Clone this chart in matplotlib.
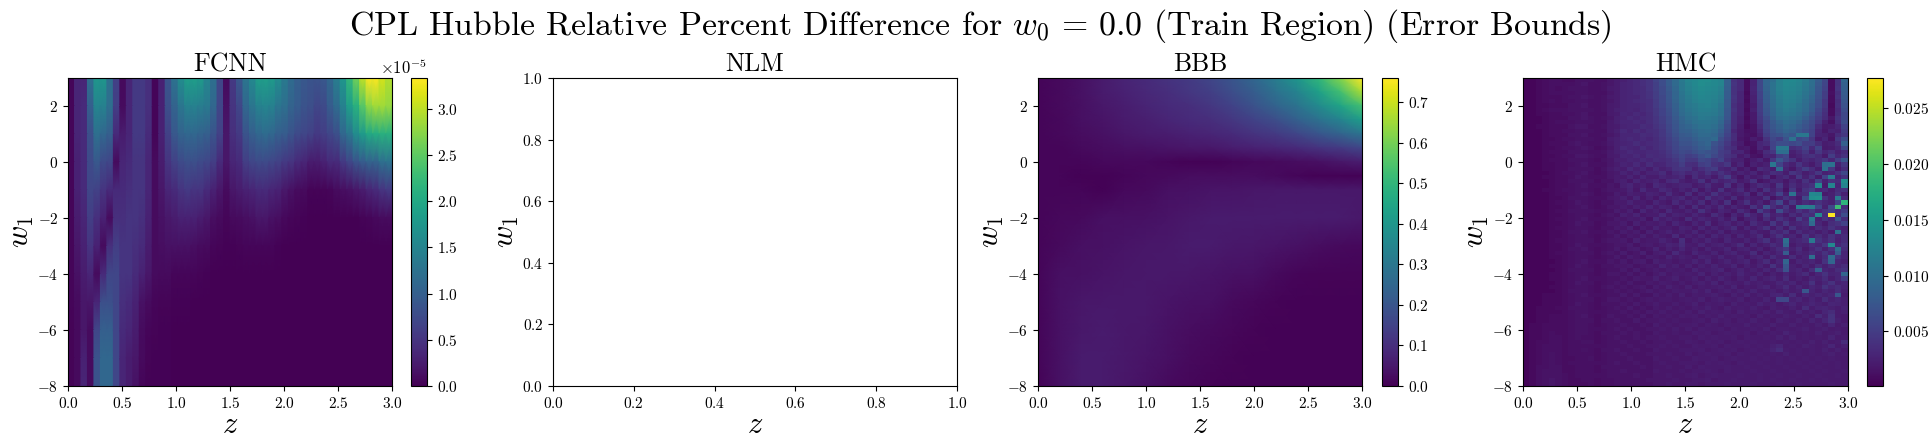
import numpy as np
import matplotlib
matplotlib.use('Agg')
import matplotlib.pyplot as plt

plt.rcParams['font.family'] = 'serif'
plt.rcParams['font.serif'] = ['cmr10']
plt.rcParams['mathtext.fontset'] = 'cm'
plt.rcParams['axes.formatter.use_mathtext'] = True
plt.rcParams['axes.unicode_minus'] = True

titles = ['FCNN', 'NLM', 'BBB', 'HMC']

# FCNN, one list per z column, values at fcnn_w1, in units of 1e-5
fcnn_w1 = [3, 2, 1, 0, -1, -2, -3, -4, -5, -6, -7, -8]
fcnn_cols = [
    [.05, .05, .05, .05, .05, .05, .05, .05, .05, .03, .03, .03],
    [.35, .35, .35, .3, .3, .25, .2, .15, .1, .08, .08, .08],
    [.35, .4, .4, .4, .4, .35, .3, .25, .2, .2, .3, .35],
    [1.2, 1.0, .8, .75, .7, .6, .5, .35, .2, .1, .1, .1],
    [1.75, 1.5, 1.2, .9, .65, .45, .3, .1, .35, .7, .85, .85],
    [1.75, 1.45, 1.1, .75, .5, .3, .1, .4, .8, 1.0, 1.1, 1.1],
    [1.2, 1.2, 1.0, .7, .4, .1, .45, .7, .8, 1.0, 1.1, 1.1],
    [.65, .6, .4, .1, .4, .45, .6, .7, .7, .7, .7, .7],
    [.08, .1, .25, .35, .4, .45, .5, .5, .45, .4, .35, .35],
    [.35, .35, .35, .4, .45, .5, .5, .5, .4, .35, .25, .25],
    [.55, .55, .55, .5, .5, .5, .45, .4, .3, .25, .2, .15],
    [.55, .55, .55, .5, .5, .45, .4, .3, .15, .1, .08, .05],
    [.45, .45, .4, .35, .35, .3, .25, .2, .1, .05, .03, .02],
    [.05, .05, .05, .1, .1, .1, .1, .1, .05, .03, .02, .02],
    [.3, .3, .3, .25, .2, .15, .12, .08, .03, .02, .02, .02],
    [.85, .8, .65, .5, .35, .22, .15, .08, .03, .02, .02, .02],
    [1.25, 1.05, .9, .65, .4, .25, .15, .05, .02, .01, .01, .01],
    [1.6, 1.3, 1.05, .75, .5, .3, .15, .05, .02, .01, .01, .01],
    [1.85, 1.45, 1.1, .8, .55, .3, .15, .05, .02, .01, .01, .01],
    [1.85, 1.45, 1.1, .8, .5, .3, .13, .05, .01, .01, .01, .01],
    [1.8, 1.4, 1.05, .75, .5, .25, .1, .03, .01, .01, .01, .01],
    [1.5, 1.35, 1.0, .7, .4, .2, .08, .02, .01, .01, .01, .01],
    [1.2, 1.1, .85, .6, .3, .12, .05, .01, .01, .01, .01, .01],
    [.7, .7, .65, .4, .2, .08, .03, .01, .01, .01, .01, .01],
    [.1, .15, .2, .2, .1, .05, .02, .01, .01, .01, .01, .01],
    [.55, .5, .45, .35, .2, .08, .02, .01, .01, .01, .01, .01],
    [.9, .7, .55, .4, .25, .1, .03, .01, .01, .01, .01, .01],
    [1.3, 1.1, .85, .6, .3, .12, .04, .01, .01, .01, .01, .01],
    [1.55, 1.3, 1.0, .7, .35, .15, .05, .01, .01, .01, .01, .01],
    [1.85, 1.45, 1.1, .75, .4, .2, .05, .01, .01, .01, .01, .01],
    [1.85, 1.5, 1.15, .75, .4, .2, .05, .01, .01, .01, .01, .01],
    [1.8, 1.45, 1.1, .7, .35, .15, .04, .01, .01, .01, .01, .01],
    [1.6, 1.3, 1.0, .65, .3, .12, .02, .01, .01, .01, .01, .01],
    [1.35, 1.2, .95, .55, .22, .07, .01, .01, .01, .01, .01, .01],
    [1.15, 1.05, .85, .5, .15, .05, .01, .01, .01, .01, .01, .01],
    [1.0, .95, .75, .4, .1, .03, .01, .01, .01, .01, .01, .01],
    [.9, .85, .7, .35, .08, .02, .01, .01, .01, .01, .01, .01],
    [.85, .8, .65, .25, .03, .01, .01, .01, .01, .01, .01, .01],
    [.85, .7, .55, .25, .03, .01, .01, .01, .01, .01, .01, .01],
    [.9, .75, .6, .3, .03, .01, .01, .01, .01, .01, .01, .01],
    [1.1, .95, .7, .4, .05, .01, .01, .01, .01, .01, .01, .01],
    [1.4, 1.15, .8, .4, .1, .01, .01, .01, .01, .01, .01, .01],
    [1.75, 1.45, 1.1, .55, .13, .01, .01, .01, .01, .01, .01, .01],
    [2.2, 1.85, 1.3, .7, .15, .01, .01, .01, .01, .01, .01, .01],
    [2.6, 2.1, 1.6, .85, .2, .01, .01, .01, .01, .01, .01, .01],
    [3.0, 2.45, 1.8, .95, .25, .03, .01, .01, .01, .01, .01, .01],
    [3.3, 2.75, 2.0, 1.05, .35, .05, .01, .01, .01, .01, .01, .01],
    [3.3, 2.85, 2.05, 1.05, .4, .07, .01, .01, .01, .01, .01, .01],
    [3.1, 2.85, 2.1, 1.2, .5, .1, .01, .01, .01, .01, .01, .01],
    [2.95, 2.8, 2.1, 1.25, .55, .1, .01, .01, .01, .01, .01, .01],
]

# BBB, one list per w1 row, values at bbb_z
bbb_z = [0, .2, .4, .6, .8, 1.0, 1.2, 1.4, 1.6, 1.8, 2.0, 2.2, 2.4, 2.6, 2.8, 3.0]
bbb_w1 = [3, 2.5, 2, 1.5, 1, .5, 0, -.5, -1, -2, -3, -4, -5, -6, -7, -8]
bbb_rows = [
    [.01, .02, .035, .055, .075, .09, .11, .13, .16, .2, .25, .32, .4, .5, .62, .76],
    [.01, .02, .035, .055, .07, .085, .1, .12, .14, .18, .22, .28, .34, .43, .53, .66],
    [.01, .02, .03, .05, .06, .075, .09, .1, .12, .15, .19, .24, .29, .36, .44, .53],
    [.01, .015, .03, .04, .055, .065, .08, .09, .1, .12, .15, .18, .23, .28, .34, .42],
    [.01, .015, .025, .035, .045, .055, .06, .07, .08, .09, .11, .13, .16, .2, .24, .29],
    [.01, .01, .02, .025, .03, .035, .04, .045, .05, .06, .07, .08, .09, .11, .13, .16],
    [.01, .01, .01, .015, .015, .015, .01, .005, .005, .01, .015, .02, .025, .03, .045, .06],
    [.01, .01, .005, .005, .01, .015, .02, .025, .025, .025, .025, .02, .01, .005, .005, .005],
    [.01, .01, .01, .005, .015, .02, .03, .035, .04, .04, .045, .05, .05, .05, .05, .05],
    [.01, .015, .02, .03, .03, .035, .04, .05, .055, .055, .055, .055, .055, .055, .055, .05],
    [.01, .02, .03, .035, .04, .045, .05, .055, .055, .05, .045, .04, .035, .025, .02, .015],
    [.01, .03, .035, .04, .045, .05, .05, .045, .04, .035, .03, .02, .01, .008, .008, .008],
    [.01, .035, .045, .05, .05, .05, .04, .035, .03, .02, .012, .008, .005, .004, .004, .004],
    [.01, .035, .05, .055, .05, .045, .035, .025, .02, .012, .007, .005, .004, .004, .004, .004],
    [.01, .035, .055, .055, .05, .04, .03, .02, .012, .007, .005, .004, .004, .004, .004, .004],
    [.008, .035, .055, .055, .045, .035, .02, .012, .007, .005, .004, .004, .004, .004, .004, .004],
]

# HMC, 75 rows top to bottom by 50 columns, in units of 0.00025
hmc_rows = [
    [2,2,3,4,5, 5,4,4,6,6, 6,5,5,7,9, 10,12,13,15,17, 22,26,32,38,45, 50,52,54,54,52, 50,34,16,13,4, 11,24,36,40,48, 52,52,50,46,40, 32,24,4,16,36],
    [2,2,3,4,5, 5,5,5,6,7, 5,5,6,7,9, 11,12,13,15,17, 21,26,32,38,44, 49,52,54,53,52, 50,34,17,13,4, 11,24,36,42,48, 52,51,49,45,40, 31,23,4,16,34],
    [2,2,3,4,5, 4,5,6,6,6, 5,5,6,8,9, 11,12,13,14,17, 21,25,31,37,44, 48,51,53,52,51, 48,33,16,13,4, 12,24,35,42,48, 51,50,48,44,39, 30,22,4,17,33],
    [2,2,3,4,5, 5,5,5,6,6, 5,5,5,7,9, 11,12,13,14,16, 20,25,30,36,43, 47,50,52,51,50, 47,32,16,12,3, 11,22,34,41,47, 50,49,47,43,38, 29,20,5,15,32],
    [2,2,3,4,4, 4,5,6,6,7, 6,5,6,8,9, 11,12,12,14,16, 20,24,30,36,42, 46,49,51,50,49, 46,32,17,12,4, 10,22,33,40,46, 49,48,46,42,36, 28,20,4,16,31],
    [2,2,3,4,5, 4,5,5,6,6, 5,5,6,7,9, 11,12,13,14,15, 19,24,29,35,41, 45,48,50,50,48, 45,31,16,12,3, 10,21,32,39,45, 48,47,45,40,35, 27,18,4,14,30],
    [2,2,3,3,4, 4,4,6,6,7, 5,5,6,8,9, 11,12,12,13,15, 19,23,28,34,40, 44,46,48,49,47, 43,31,15,11,4, 9,20,31,38,44, 47,46,43,39,33, 26,18,3,15,28],
    [2,2,3,4,5, 5,5,6,6,6, 6,5,6,8,10, 11,12,11,13,15, 18,22,27,33,39, 43,45,47,47,46, 42,30,16,11,3, 10,20,30,37,43, 46,44,42,38,32, 24,16,4,13,26],
    [2,2,3,3,4, 4,5,5,6,7, 5,5,5,8,9, 12,11,13,12,14, 18,22,26,32,38, 41,44,46,46,45, 41,30,15,11,4, 8,19,29,36,42, 44,43,40,36,30, 22,15,4,14,24],
    [2,2,2,3,4, 4,4,6,6,7, 6,5,6,7,10, 11,13,12,13,14, 17,21,25,31,36, 40,42,45,44,43, 39,29,15,10,3, 8,18,26,34,40, 42,40,38,33,27, 20,14,7,16,24],
    [2,2,2,3,4, 5,5,5,6,6, 6,5,5,8,10, 12,12,13,12,14, 17,20,25,30,35, 38,41,43,43,42, 37,27,14,10,4, 7,16,24,31,36, 40,38,35,30,25, 18,10,5,15,26],
    [2,2,3,3,4, 4,4,6,7,7, 5,5,6,8,9, 11,12,12,14,13, 16,19,24,29,34, 36,39,41,42,40, 35,25,14,9,3, 6,14,24,30,34, 38,36,32,28,24, 14,8,9,12,22],
    [2,2,2,3,4, 4,5,5,6,6, 6,5,5,8,10, 13,11,14,12,14, 15,18,23,28,33, 34,37,39,40,38, 32,24,12,8,5, 6,12,22,28,32, 36,34,30,26,22, 12,7,11,10,20],
    [2,2,2,3,4, 4,4,6,6,7, 5,5,6,7,9, 12,12,12,14,13, 15,18,22,27,31, 32,35,38,38,36, 30,22,14,8,6, 5,10,20,26,28, 32,30,44,44,22, 11,10,7,14,18],
    [2,2,2,3,3, 4,5,5,6,6, 6,5,5,9,10, 12,13,12,13,12, 14,17,21,25,30, 30,33,36,36,38, 26,20,14,7,5, 9,7,16,24,20, 28,42,24,26,18, 8,12,6,18,26],
    [2,2,2,3,4, 4,4,6,7,6, 5,5,6,8,10, 11,12,14,12,13, 14,16,20,24,28, 28,31,34,36,28, 24,18,12,9,4, 6,12,14,22,26, 26,24,26,20,20, 14,9,10,14,34],
    [2,2,2,3,3, 4,5,5,6,7, 6,4,5,7,10, 13,12,11,14,12, 14,16,19,23,26, 26,29,32,34,26, 22,16,14,7,8, 5,12,9,22,44, 44,14,16,22,13, 22,8,9,12,24],
    [2,2,2,3,4, 4,4,6,6,6, 5,5,6,8,10, 11,13,12,12,13, 13,15,18,22,25, 24,27,30,28,26, 20,18,11,12,7, 4,7,14,18,40, 40,10,13,18,10, 18,12,15,10,14],
    [2,2,2,3,3, 4,5,5,7,7, 6,5,5,8,9, 12,11,13,11,14, 13,14,17,20,23, 20,22,26,30,24, 20,16,14,8,11, 6,5,12,11,20, 24,9,11,15,16, 13,8,20,12,16],
    [2,2,2,3,4, 4,4,6,6,6, 5,4,6,7,10, 10,12,11,13,12, 14,13,15,18,22, 18,18,24,22,18, 22,14,10,10,6, 9,12,7,18,30, 22,16,9,13,11, 14,18,12,20,30],
    [2,2,2,3,3, 4,4,5,6,7, 5,5,5,7,9, 11,10,13,10,14, 11,12,15,16,20, 15,14,20,22,16, 14,18,8,12,5, 10,8,10,44,22, 13,10,17,11,8, 13,40,42,10,18],
    [2,2,2,3,3, 4,4,6,6,6, 6,4,6,8,10, 9,13,10,12,9, 13,10,12,16,17, 16,11,15,18,20, 12,10,14,7,10, 6,14,12,9,38, 11,7,13,20,14, 9,42,18,8,14],
    [2,2,2,2,3, 4,5,5,6,7, 5,4,5,7,8, 11,9,12,8,11, 11,14,9,13,15, 12,14,11,16,12, 16,12,8,11,9, 12,7,10,15,13, 9,17,14,9,12, 18,10,12,16,24],
    [2,2,2,3,3, 4,4,5,7,6, 5,5,5,7,9, 8,11,8,12,9, 9,12,10,11,13, 7,14,10,12,8, 14,20,10,6,12, 8,10,15,6,11, 14,8,18,10,16, 8,22,46,11,16],
    [2,2,2,2,3, 4,4,6,6,6, 6,4,6,6,9, 10,7,12,9,10, 12,8,13,15,10, 8,10,16,8,14, 10,12,14,8,10, 16,6,8,12,11, 7,12,9,16,10, 22,10,16,14,54],
    [2,2,2,2,3, 4,4,5,6,7, 5,5,5,7,6, 10,12,8,10,7, 13,11,9,10,12, 12,8,10,14,9, 8,16,7,12,6, 10,14,12,8,18, 8,14,10,13,16, 52,8,50,12,50],
    [2,2,2,3,3, 4,5,5,6,6, 5,4,6,7,7, 8,11,7,13,9, 9,13,11,8,11, 9,14,7,12,8, 16,8,10,14,7, 12,7,16,10,14, 6,18,8,16,20, 12,13,9,14,16],
    [2,2,2,2,3, 4,4,5,6,7, 6,4,5,6,9, 7,10,9,8,11, 10,8,14,9,7, 14,7,12,9,16, 10,12,8,10,14, 6,14,8,12,22, 10,42,12,14,52, 50,8,10,16,10],
    [2,2,2,2,3, 3,4,6,6,6, 5,5,5,7,8, 10,7,12,7,10, 7,12,9,11,13, 8,11,8,16,10, 12,8,14,7,11, 9,8,16,6,10, 16,12,8,24,54, 56,16,10,46,14],
    [2,2,2,2,3, 4,4,5,7,6, 5,4,6,6,8, 8,11,8,9,7, 12,9,7,13,9, 12,9,14,7,12, 8,16,6,10,16, 8,12,7,14,24, 9,18,10,14,12, 16,12,10,22,72],
    [2,2,2,2,3, 3,4,5,6,7, 5,4,5,7,7, 9,7,10,8,12, 8,11,10,7,12, 7,14,8,12,9, 14,8,12,9,7, 16,10,28,14,10, 18,8,46,48,46, 22,10,24,76,14],
    [2,2,2,2,3, 4,4,6,6,6, 6,5,5,6,9, 7,10,6,12,8, 10,7,13,9,8, 11,8,16,10,7, 12,10,7,14,10, 6,20,12,8,26, 14,10,16,12,18, 12,16,20,14,20],
    [2,2,2,2,3, 3,4,5,6,6, 5,4,6,7,6, 10,8,11,7,9, 9,13,8,11,10, 8,12,9,7,14, 10,6,12,8,16, 11,8,18,10,12, 8,14,10,16,14, 52,14,110,14,26],
    [2,2,2,2,3, 4,4,5,6,7, 5,5,5,6,8, 7,9,8,10,6, 13,9,11,9,7, 14,9,12,10,8, 12,8,14,6,10, 12,7,14,9,16, 12,8,20,12,44, 10,16,12,28,14],
    [2,2,2,2,3, 3,4,5,7,6, 6,4,5,7,7, 9,6,10,7,9, 8,10,7,12,9, 7,11,8,14,7, 10,12,8,11,7, 14,10,8,18,10, 18,10,12,14,38, 12,8,14,16,22],
    [2,2,2,2,3, 4,4,5,6,6, 5,4,6,6,8, 7,10,6,9,7, 11,8,9,7,11, 10,7,12,8,11, 8,10,14,7,12, 8,11,16,8,14, 8,16,10,12,9, 14,11,16,12,10],
    [2,2,2,2,3, 3,4,6,6,7, 5,5,5,7,6, 9,7,9,6,10, 7,9,11,8,10, 8,12,7,10,8, 12,7,10,9,8, 12,9,8,14,11, 16,8,14,10,12, 9,12,8,42,12],
    [2,2,2,2,3, 3,4,5,6,6, 5,4,5,6,8, 6,8,7,10,7, 10,8,7,13,7, 10,8,11,7,12, 9,11,7,12,8, 10,14,7,11,16, 10,12,8,16,10, 14,10,16,11,14],
    [2,2,2,2,3, 4,4,5,6,6, 6,4,6,7,7, 8,6,10,7,8, 8,11,9,7,15, 7,10,8,12,9, 7,12,9,8,11, 8,12,16,9,12, 40,10,12,14,44, 16,12,16,10,14],
    [2,2,2,2,3, 3,4,5,7,6, 5,5,5,6,7, 7,9,6,8,9, 7,9,11,10,14, 9,8,12,8,10, 11,8,10,14,7, 12,8,10,14,11, 36,8,11,10,14, 12,18,52,12,16],
    [2,2,2,2,3, 3,4,6,6,7, 5,4,5,6,8, 6,8,9,6,7, 11,7,10,8,12, 8,10,7,11,8, 9,12,7,10,11, 8,11,7,10,14, 18,10,14,8,12, 16,10,16,38,14],
    [2,2,2,2,3, 4,4,5,6,6, 6,4,6,7,6, 9,6,7,10,6, 9,10,7,13,9, 7,12,9,8,11, 7,10,12,8,9, 14,7,11,9,12, 32,8,12,10,14, 11,16,12,32,12],
    [2,2,2,2,3, 3,4,5,6,6, 5,4,5,6,8, 6,9,7,6,9, 8,7,11,8,10, 9,7,11,10,8, 12,8,9,11,7, 10,12,8,14,10, 10,14,9,11,40, 10,14,38,16,12],
    [2,2,2,2,2, 3,4,5,6,7, 5,5,5,7,6, 8,6,8,9,6, 10,8,9,7,9, 8,11,8,12,7, 9,11,8,10,12, 7,10,14,8,12, 36,8,12,10,12, 9,16,36,12,10],
    [2,2,2,2,3, 3,4,5,7,6, 5,4,6,6,7, 7,8,6,7,8, 7,11,8,10,7, 10,7,10,8,11, 8,9,12,7,10, 8,11,8,16,10, 30,10,8,12,9, 14,10,14,11,14],
    [2,2,2,2,2, 3,4,6,6,6, 6,4,5,6,6, 8,6,9,6,7, 9,7,9,8,9, 7,11,8,9,10, 12,7,9,11,8, 10,8,12,9,14, 28,10,12,8,14, 34,12,10,14,16],
    [2,2,2,2,3, 3,4,5,6,6, 5,4,5,7,7, 6,8,6,8,6, 8,10,7,9,8, 9,8,11,7,10, 8,10,8,12,9, 8,11,7,10,8, 12,9,11,14,8, 12,16,11,12,36],
    [2,2,2,2,3, 3,4,5,6,7, 5,5,5,6,6, 7,6,8,7,7, 10,7,8,10,7, 8,10,7,10,8, 11,9,7,10,8, 12,8,10,12,9, 14,8,10,8,12, 10,14,9,12,20],
    [2,2,2,2,2, 3,4,5,7,6, 6,4,5,6,7, 6,8,6,6,8, 7,9,8,7,9, 7,9,10,8,11, 7,10,9,8,11, 9,10,8,9,12, 10,12,8,10,16, 9,12,16,10,12],
    [2,2,2,2,3, 3,4,5,6,6, 5,4,6,7,6, 7,6,7,8,6, 9,7,10,8,7, 10,7,9,8,9, 10,8,11,7,9, 8,10,12,8,10, 14,9,12,9,12, 10,16,12,14,11],
    [2,2,2,2,2, 3,4,6,6,6, 5,4,5,6,7, 6,7,6,7,9, 7,8,7,9,8, 8,10,8,11,7, 9,10,8,10,8, 11,8,9,10,8, 11,9,10,30,11, 9,12,10,14,10],
    [2,2,2,3,3, 3,4,5,6,7, 5,5,5,6,6, 8,6,8,6,6, 9,7,9,7,10, 7,9,8,9,10, 8,7,10,8,11, 8,10,8,11,12, 9,14,8,12,10, 12,10,12,30,9],
    [2,2,2,3,3, 3,4,5,6,6, 6,4,5,7,7, 6,7,6,7,8, 7,8,8,7,8, 9,8,10,7,9, 10,9,8,10,7, 9,8,11,8,24, 24,10,12,9,11, 9,14,10,12,10],
    [2,2,2,3,3, 3,4,5,7,6, 5,4,6,6,6, 7,6,8,6,7, 9,7,7,9,7, 8,10,7,9,8, 9,7,10,8,9, 8,11,9,10,8, 10,12,9,10,12, 10,9,12,11,10],
    [2,2,3,3,3, 4,4,6,6,6, 5,4,5,6,7, 6,8,6,7,6, 8,7,9,7,8, 7,9,8,10,8, 7,10,8,9,8, 10,8,7,10,9, 8,10,8,14,9, 11,12,10,9,11],
    [2,2,3,3,3, 3,4,5,6,6, 5,5,5,6,6, 7,6,7,6,8, 7,9,7,8,7, 9,7,10,8,9, 8,9,7,10,8, 9,8,10,8,11, 9,8,12,9,10, 8,12,14,9,10],
    [2,2,3,3,4, 4,4,5,6,7, 5,4,5,7,6, 6,7,6,8,6, 8,7,8,7,9, 8,9,7,9,8, 10,8,9,8,9, 7,10,8,9,8, 10,9,8,10,8, 14,10,16,9,8],
    [2,2,3,3,4, 4,4,5,6,6, 6,4,6,6,7, 6,6,8,6,7, 7,8,7,8,7, 7,8,9,7,10, 8,9,7,9,8, 10,8,9,7,10, 9,8,10,8,11, 9,12,16,10,8],
    [2,3,3,4,4, 4,4,5,6,6, 5,4,5,6,6, 7,6,6,7,6, 9,7,8,7,8, 8,9,7,9,8, 7,9,8,8,10, 8,9,8,10,8, 8,10,8,9,8, 10,8,12,8,10],
    [2,3,3,4,4, 4,4,5,6,6, 5,5,5,6,7, 6,7,6,6,7, 7,8,7,9,7, 9,7,9,8,8, 9,7,9,8,8, 9,8,10,7,9, 9,8,9,10,8, 9,10,8,9,8],
    [2,3,3,4,5, 4,4,5,6,6, 5,4,6,6,6, 7,6,7,6,6, 8,7,7,8,7, 7,9,8,9,7, 8,9,8,8,9, 7,9,8,9,8, 11,9,8,9,8, 10,8,9,10,8],
    [2,3,3,4,5, 5,4,5,6,5, 5,4,5,6,7, 6,6,7,6,7, 7,8,7,7,8, 8,7,9,8,9, 8,8,9,7,9, 8,8,9,8,10, 8,10,8,9,8, 9,8,11,8,9],
    [2,3,4,4,5, 5,4,5,5,6, 6,4,5,6,6, 7,6,6,7,6, 7,7,8,7,7, 9,8,7,9,8, 9,7,8,9,8, 9,8,8,9,8, 9,8,9,8,10, 8,10,8,9,14],
    [2,3,4,5,5, 5,4,5,5,5, 5,5,5,6,6, 6,7,6,6,7, 7,8,7,8,7, 7,9,8,8,9, 7,9,8,8,9, 8,9,8,10,12, 8,9,8,10,9, 8,9,12,8,10],
    [2,3,4,5,5, 5,4,5,5,6, 5,4,6,6,7, 6,6,7,6,6, 8,7,7,7,8, 8,8,9,7,8, 9,8,9,7,8, 9,8,9,11,14, 9,8,9,8,9, 8,10,8,10,8],
    [2,3,4,5,6, 5,4,5,5,5, 5,4,5,6,6, 7,6,6,6,7, 7,7,8,7,7, 9,7,8,9,8, 8,9,7,9,8, 8,9,8,9,8, 10,8,9,8,9, 8,9,10,8,9],
    [2,3,4,5,6, 5,4,4,5,5, 6,4,5,6,6, 6,7,6,6,6, 8,7,7,8,7, 7,9,8,8,9, 7,8,9,8,8, 9,8,9,8,9, 8,9,8,9,8, 9,8,9,8,8],
    [2,3,4,5,6, 5,4,5,5,5, 5,5,5,6,7, 6,6,7,6,6, 7,8,7,7,8, 8,8,7,9,8, 9,8,7,9,8, 8,9,8,8,9, 8,8,9,8,9, 8,9,8,9,8],
    [2,3,5,5,6, 6,4,4,5,5, 5,4,6,6,6, 6,6,6,7,6, 7,7,8,7,7, 9,7,9,8,8, 8,9,8,8,9, 8,8,9,8,8, 9,8,8,9,8, 9,8,8,9,8],
    [2,3,5,6,6, 6,4,4,5,5, 5,4,5,6,6, 7,6,6,6,6, 8,7,7,7,8, 7,8,8,9,8, 7,9,8,8,8, 9,8,8,9,8, 8,9,8,8,9, 8,9,8,8,9],
    [2,3,5,6,6, 6,5,4,5,5, 5,5,5,6,6, 6,6,7,6,6, 7,7,8,7,7, 8,9,7,8,9, 8,8,8,9,8, 8,9,8,8,9, 8,8,9,8,8, 9,8,8,9,8],
    [2,3,5,6,7, 6,5,4,4,5, 5,4,5,5,6, 6,6,6,6,7, 7,7,7,8,7, 7,8,8,9,7, 8,8,9,8,8, 8,9,8,9,8, 8,9,8,8,9, 8,9,8,8,8],
    [2,3,5,6,7, 6,5,4,4,4, 5,4,5,5,6, 6,6,6,6,6, 7,7,8,7,7, 8,8,7,8,8, 8,9,8,8,8, 9,8,8,8,9, 8,8,9,8,8, 8,8,9,8,8],
]

hmc_z = np.linspace(0, 3, 51)
hmc_w1 = np.linspace(3, -8, len(hmc_rows) + 1)
fcnn_edges = np.linspace(0, 3, 51)

W, H = 1933, 448

def pix_axes(x0, x1, y0=78, y1=386):
    return fig.add_axes([x0/W, 1 - y1/H, (x1 - x0)/W, (y1 - y0)/H])

def dress(ax, title):
    ax.set_title(title, fontsize=18.5, pad=5)
    ax.set_xlabel(r'$z$', fontsize=22, labelpad=0.5)
    ax.set_ylabel(r'$w_1$', fontsize=22, labelpad=1)
    ax.tick_params(labelsize=11)

fig = plt.figure(figsize=(W/100, H/100), dpi=100)
fig.suptitle(r'CPL Hubble Relative Percent Difference for $w_0\,=\,0.0$ (Train Region) (Error Bounds)',
             fontsize=24.3, x=0.507, y=0.985)

# FCNN: columns held flat, smooth along w1
ax = pix_axes(68, 392)
fcnn = np.array(fcnn_cols).T * 1e-5
zz = np.repeat(fcnn_edges, 2)[1:-1]
m = ax.pcolormesh(zz, fcnn_w1, np.repeat(fcnn, 2, axis=1), shading='gouraud',
                  cmap='viridis', vmin=0, vmax=3.33e-5)
ax.set_xlim(0, 3)
ax.set_ylim(-8, 3)
dress(ax, titles[0])
cb = fig.colorbar(m, cax=pix_axes(411, 427))
cb.ax.tick_params(labelsize=11)
cb.ax.yaxis.get_offset_text().set_fontsize(12)

# NLM: empty
ax = pix_axes(553, 957)
dress(ax, titles[1])
ax.set_xlim(0, 1)
ax.set_ylim(0, 1)

# BBB
ax = pix_axes(1038, 1362)
m = ax.pcolormesh(bbb_z, bbb_w1, np.array(bbb_rows), shading='gouraud',
                  cmap='viridis', vmin=0, vmax=0.76)
ax.set_xlim(0, 3)
ax.set_ylim(-8, 3)
dress(ax, titles[2])
cb = fig.colorbar(m, cax=pix_axes(1382, 1398))
cb.ax.tick_params(labelsize=11)

# HMC
ax = pix_axes(1523, 1848)
m = ax.pcolormesh(hmc_z, hmc_w1, np.array(hmc_rows) * 0.00025, cmap='viridis',
                  vmin=0.0001, vmax=0.0277)
ax.set_xlim(0, 3)
ax.set_ylim(-8, 3)
dress(ax, titles[3])
cb = fig.colorbar(m, cax=pix_axes(1867, 1883))
cb.set_ticks([0.005, 0.01, 0.015, 0.02, 0.025])
cb.ax.tick_params(labelsize=11)

fig.savefig('out.png', dpi=100)
